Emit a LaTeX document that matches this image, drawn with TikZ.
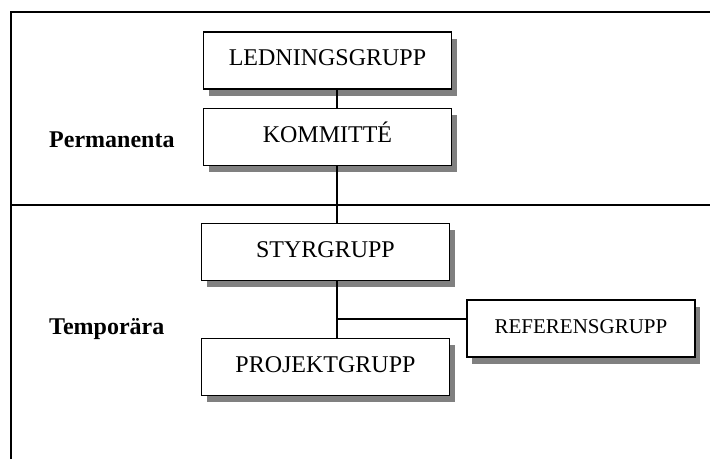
\documentclass[tikz,border=0pt]{standalone}
\usepackage{fontspec}
\setmainfont{Liberation Serif}
\usetikzlibrary{shadows}
\definecolor{shadowgray}{HTML}{808080}
\begin{document}
\begin{tikzpicture}[x=1pt,y=-1pt,
  orgbox/.style={draw,line width=1.8pt,fill=white,inner sep=0pt,
    minimum width=248pt,minimum height=57pt,
    text height=16pt,text depth=6pt,
    font=\fontsize{24}{28}\selectfont,
    drop shadow={shadow xshift=5pt,shadow yshift=-6.5pt,fill=shadowgray,opacity=1}},
  sidebox/.style={orgbox,minimum width=228pt,text height=15pt,text depth=6pt,
    font=\fontsize{21}{25}\selectfont},
  rowlabel/.style={anchor=base west,inner sep=0pt,font=\fontsize{24}{28}\selectfont\bfseries},
  frameline/.style={line width=1.4pt},
  link/.style={line width=1.4pt}]
\useasboundingbox (0,0) rectangle (710,459);

% frame of the two zones
\draw[frameline] (11,459) -- (11,12) -- (710,12);
\draw[frameline] (11,205) -- (710,205);

% zone labels
\node[rowlabel] (perm) at (49,147) {Permanenta};
\node[rowlabel] (temp) at (49,334) {Temporära};

% the groups
\node[orgbox] (lg)  at (327.5,60.5) {LEDNINGSGRUPP};
\node[orgbox] (km)  at (327.5,137)  {KOMMITTÉ};
\node[orgbox] (sg)  at (325.5,252)  {STYRGRUPP};
\node[orgbox] (pg)  at (325.5,367)  {PROJEKTGRUPP};
\node[sidebox] (rg) at (581,328.5)  {REFERENSGRUPP};

% vertical spine and the side branch
\coordinate (spine) at (337,0);
\coordinate (branch) at (337,319);
\draw[link] (lg.south -| spine) -- (km.north -| spine);
\draw[link] (km.south -| spine) -- (sg.north -| spine);
\draw[link] (sg.south -| spine) -- (pg.north -| spine);
\draw[link] (branch) -- (branch -| rg.west);
\end{tikzpicture}
\end{document}
